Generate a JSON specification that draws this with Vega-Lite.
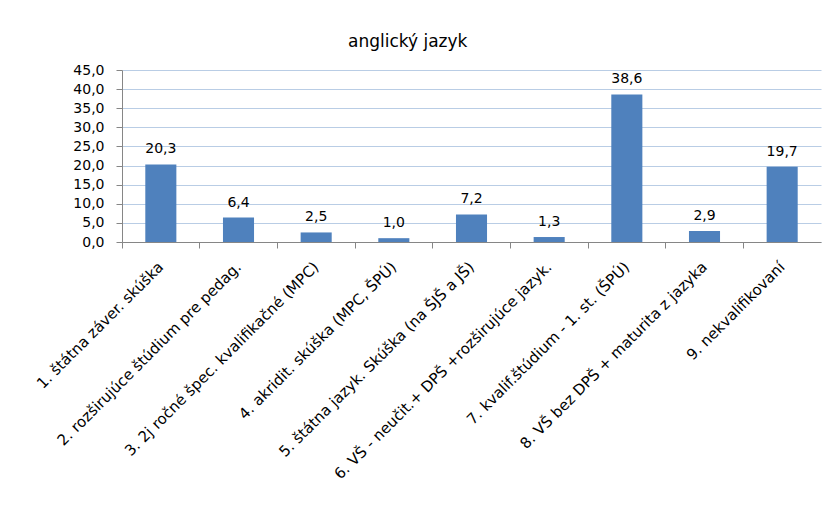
{
  "$schema": "https://vega.github.io/schema/vega-lite/v6.json",
  "autosize": "none",
  "width": 699,
  "height": 172,
  "padding": {"left": 122, "top": 70, "right": 11, "bottom": 283},
  "background": "white",
  "config": {
    "locale": {"number": {"decimal": ",", "thousands": " ", "grouping": [3], "currency": ["", " €"]}},
    "font": "DejaVu Sans",
    "view": {"stroke": null},
    "title": {"fontSize": 17, "fontWeight": "normal", "color": "#000000", "font": "DejaVu Sans"}
  },
  "title": {"text": "anglický jazyk", "anchor": "start", "frame": "group", "dx": 226, "offset": 12},
  "data": {"values": [
    {"kategoria": "1. štátna záver. skúška", "hodnota": 20.3},
    {"kategoria": "2. rozširujúce štúdium pre pedag.", "hodnota": 6.4},
    {"kategoria": "3. 2j ročné špec. kvalifikačné (MPC)", "hodnota": 2.5},
    {"kategoria": "4. akridit. skúška (MPC, ŠPÚ)", "hodnota": 1.0},
    {"kategoria": "5. štátna jazyk. Skúška (na ŠJŠ a JŠ)", "hodnota": 7.2},
    {"kategoria": "6. VŠ - neučit.+ DPŠ +rozširujúce jazyk.", "hodnota": 1.3},
    {"kategoria": "7. kvalif.štúdium - 1. st. (ŠPÚ)", "hodnota": 38.6},
    {"kategoria": "8. VŠ bez DPŠ + maturita z jazyka", "hodnota": 2.9},
    {"kategoria": "9. nekvalifikovaní", "hodnota": 19.7}
  ]},
  "resolve": {"axis": {"x": "independent"}},
  "encoding": {
    "y": {
      "field": "hodnota", "type": "quantitative",
      "scale": {"domain": [0, 45], "nice": false},
      "axis": {"title": null, "values": [0, 5, 10, 15, 20, 25, 30, 35, 40, 45], "format": ".1f",
        "labelFontSize": 14, "labelColor": "#000000", "labelPadding": 12,
        "grid": true, "gridColor": "#b9cde5", "gridWidth": 1,
        "domainColor": "#868686", "ticks": true, "tickSize": 6, "tickColor": "#868686"}
    }
  },
  "layer": [
    {
      "mark": {"type": "tick", "opacity": 0},
      "encoding": {
        "x": {"field": "kategoria", "type": "nominal", "sort": null,
          "scale": {"paddingInner": 0, "paddingOuter": 0},
          "axis": {"orient": "bottom", "title": null, "labels": false, "bandPosition": 0,
            "ticks": true, "tickSize": 6, "tickColor": "#868686", "domain": true, "domainColor": "#868686", "grid": false}}
      }
    },
    {
      "mark": {"type": "bar", "color": "#4f81bd", "width": {"band": 0.4}},
      "encoding": {
        "x": {"field": "kategoria", "type": "nominal", "sort": null,
          "axis": {"orient": "bottom", "title": null, "labelAngle": -45, "labelAlign": "right", "labelBaseline": "middle",
            "labelPadding": 22, "labelFontSize": 15, "labelColor": "#000000", "labelLimit": 400,
            "ticks": false, "domain": false, "grid": false}}
      }
    },
    {
      "mark": {"type": "text", "baseline": "bottom", "dy": -8, "fontSize": 14, "color": "#000000"},
      "encoding": {
        "x": {"field": "kategoria", "type": "nominal", "sort": null, "axis": null},
        "text": {"field": "hodnota", "type": "quantitative", "format": ".1f"}
      }
    }
  ]
}
